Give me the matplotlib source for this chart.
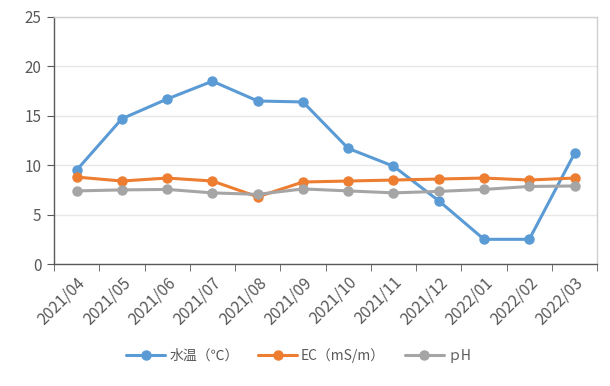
import matplotlib
matplotlib.use("Agg")
import matplotlib.pyplot as plt

plt.rcParams['font.family'] = ['Noto Sans CJK JP', 'DejaVu Sans']

months = ["2021/04", "2021/05", "2021/06", "2021/07", "2021/08", "2021/09",
          "2021/10", "2021/11", "2021/12", "2022/01", "2022/02", "2022/03"]
water_temp = [9.5, 14.7, 16.7, 18.5, 16.5, 16.4, 11.7, 9.9, 6.4, 2.5, 2.5, 11.2]
ec = [8.8, 8.4, 8.7, 8.4, 6.8, 8.3, 8.4, 8.5, 8.6, 8.7, 8.5, 8.7]
ph = [7.4, 7.5, 7.55, 7.2, 7.05, 7.6, 7.4, 7.2, 7.35, 7.55, 7.85, 7.9]
series_names = ["水温（℃）", "EC（mS/m）", "ｐH"]
yticks = [0, 5, 10, 15, 20, 25]

colors = ["#5B9BD5", "#ED7D31", "#A5A5A5"]
text_color = "#595959"

fig = plt.figure(figsize=(6.1, 3.86), dpi=100)
ax = fig.add_axes([0.0885, 0.316, 0.8905, 0.64])

x = list(range(len(months)))
for vals, name, c in zip([water_temp, ec, ph], series_names, colors):
    ax.plot(x, vals, color=c, lw=2.2, marker="o", ms=6.5, label=name,
            solid_capstyle="round")

ax.set_xlim(-0.5, len(months) - 0.5)
ax.set_ylim(0, 25)
ax.set_yticks(yticks)
ax.set_xticks(x)
ax.set_xticklabels(months, rotation=45, ha="right", rotation_mode="anchor")
ax.set_xticks([i - 0.5 for i in range(len(months) + 1)], minor=True)
ax.tick_params(axis="x", which="major", length=0, pad=7, labelsize=11.5, colors=text_color)
ax.tick_params(axis="x", which="minor", length=5, color="#595959", direction="out")
ax.tick_params(axis="y", length=5, color="#595959", labelsize=11, colors=text_color, pad=4)

ax.grid(axis="y", color="#E8E8E8", lw=1)
ax.set_axisbelow(True)
for side in ["top", "right"]:
    ax.spines[side].set_color("#D0D0D0")
    ax.spines[side].set_linewidth(1)
for side in ["left", "bottom"]:
    ax.spines[side].set_color("#595959")
    ax.spines[side].set_linewidth(1)

fig.legend(loc="center", bbox_to_anchor=(0.49, 0.08), ncol=3, frameon=False,
           fontsize=10, handlelength=2.8, columnspacing=1.4, handletextpad=0.3,
           labelcolor=text_color)

fig.savefig("out.png", dpi=100)
